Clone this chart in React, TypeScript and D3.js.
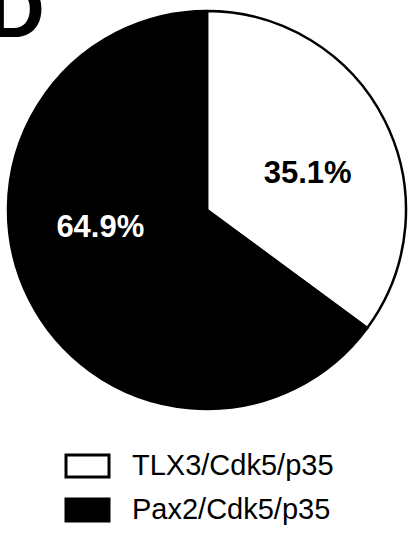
import React from "react";
import * as d3 from "d3";

const categories = ["TLX3/Cdk5/p35", "Pax2/Cdk5/p35"];
const values = [35.1, 64.9];
const labels = ["35.1%", "64.9%"];
const fills = ["#ffffff", "#000000"];
const textFills = ["#000000", "#ffffff"];

export default function App() {
  const W = 409, H = 534;
  const cx = 207, cy = 210, r = 199;
  const pie = d3.pie<number>().sort(null).value((d) => d)(values);
  const arc = d3.arc<d3.PieArcDatum<number>>().innerRadius(0).outerRadius(r);
  const labelArc = d3.arc<d3.PieArcDatum<number>>().innerRadius(r * 0.55).outerRadius(r * 0.55);
  const font = "Liberation Sans, Arial, sans-serif";
  const labelOffsets = [[3, 12], [-9, -33]];
  return (
    <svg width={W} height={H} style={{ position: "absolute", left: 0, top: 0, background: "#fff" }}>
      <rect width={W} height={H} fill="#fff" />
      <text x={-13} y={37} fontFamily={font} fontWeight="bold" fontSize={80} fill="#000">D</text>
      <g transform={`translate(${cx},${cy})`}>
        {pie.map((p, i) => (
          <path key={i} d={arc(p) || ""} fill={fills[i]} stroke="#000" strokeWidth={2.5} strokeLinejoin="round" />
        ))}
        {pie.map((p, i) => {
          const [x, y] = labelArc.centroid(p);
          return (
            <text key={"l" + i} x={x + labelOffsets[i][0]} y={y + labelOffsets[i][1]} textAnchor="middle" dominantBaseline="central"
              fontFamily={font} fontWeight="bold" fontSize={31} fill={textFills[i]}>{labels[i]}</text>
          );
        })}
      </g>
      {categories.map((c, i) => (
        <g key={c} transform={`translate(0,${466 + i * 44})`}>
          <rect x={66} y={-11} width={43} height={22} fill={fills[i]} stroke="#000" strokeWidth={3} />
          <text x={132} y={9} fontFamily={font} fontSize={29} fill="#000">{c}</text>
        </g>
      ))}
    </svg>
  );
}
